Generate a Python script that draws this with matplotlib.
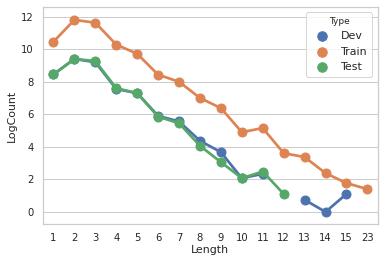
import numpy as np
import matplotlib
matplotlib.use("Agg")
import matplotlib.pyplot as plt
import seaborn as sns

categories = ["1", "2", "3", "4", "5", "6", "7", "8", "9", "10", "11", "12", "13", "14", "15", "23"]
dev = [8.45, 9.4, 9.2, 7.55, 7.3, 5.9, 5.56, 4.37, 3.67, 2.07, 2.34, np.nan, 0.74, 0.0, 1.1, np.nan]
train = [10.46, 11.8, 11.63, 10.28, 9.72, 8.43, 8.0, 7.0, 6.38, 4.9, 5.15, 3.61, 3.37, 2.38, 1.77, 1.40]
test = [8.45, 9.4, 9.27, 7.6, 7.3, 5.85, 5.45, 4.06, 3.06, 2.07, 2.48, 1.1, np.nan, np.nan, np.nan, np.nan]
series = [("Dev", dev), ("Train", train), ("Test", test)]

sns.set_theme(style="whitegrid")
pal = sns.color_palette("deep")
plt.rcParams['font.family'] = ['DejaVu Sans']

fig = plt.figure(figsize=(384/72, 265/72), dpi=72)
ax = fig.add_axes([0.112, 0.155, 0.872, 0.819])
x = np.arange(len(categories))
handles = []
for i, (name, vals) in enumerate(series):
    ax.plot(x, vals, color=pal[i], lw=2.7, marker="o", ms=9, zorder=2 + i)
    handles.append(ax.scatter([], [], color=pal[i], s=90, label=name))

ax.set_xticks(x)
ax.set_xticklabels(categories)
ax.set_xlim(-0.5, len(categories) - 0.5)
ax.set_ylim(-0.74, 12.6)
ax.set_yticks([0, 2, 4, 6, 8, 10, 12])
ax.xaxis.grid(False)
ax.tick_params(labelsize=10)
ax.set_xlabel("Length", fontsize=11, labelpad=2)
ax.set_ylabel("LogCount", fontsize=11)
leg = ax.legend(handles=handles, title="Type", loc="upper right", fontsize=11,
                title_fontsize=9, frameon=True)
fig.savefig("out.png", dpi=72)
